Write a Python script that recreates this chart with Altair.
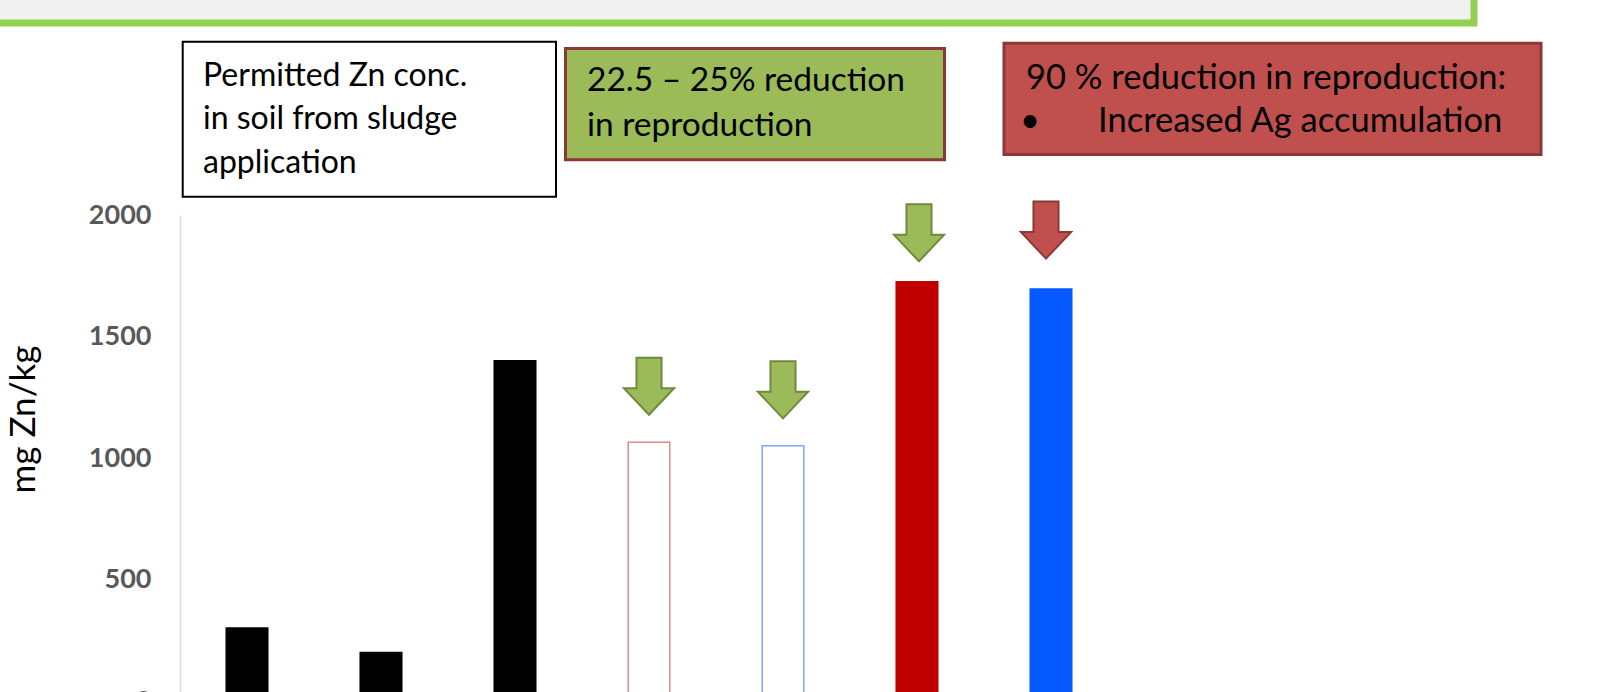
import altair as alt
import pandas as pd

# ---- data -------------------------------------------------------------
groups = ["g1", "g2", "g3", "g4", "g5", "g6", "g7"]
zn_mg_per_kg = [300, 200, 1400, 1065, 1050, 1725, 1695]
bar_fill = ["#000000", "#000000", "#000000", "#ffffff", "#ffffff", "#c00000", "#0658ff"]
bar_stroke = ["#000000", "#000000", "#000000", "#e8888a", "#7fa6ff", "#c00000", "#0658ff"]
y_ticks = [0, 500, 1000, 1500, 2000]

box1_lines = ["Permitted Zn conc.", "in soil from sludge", "application"]
box2_lines = ["22.5 \u2013 25% reduction", "in reproduction"]
box3_line1 = "90 % reduction in reproduction:"
box3_line2 = "Increased  Ag accumulation"

# ---- layout (page pixels) ---------------------------------------------
ORIGIN_X, ORIGIN_Y = 180, 215   # left edge of plot / position of the 2000 tick
PLOT_W = 938                    # 7 bands of 134 px
Y_SPAN = 486                    # pixels from 2000 down to 0
PAGE_W, PAGE_H = 1615, 692
FONT = "Lato"


def px(x):
    return x - ORIGIN_X


def py(y):
    return y - ORIGIN_Y


bars = pd.DataFrame({
    "group": groups,
    "value": zn_mg_per_kg,
    "fill": bar_fill,
    "stroke": bar_stroke,
})

x_enc = alt.X(
    "group:N",
    axis=None,
    scale=alt.Scale(domain=groups, paddingInner=0.69, paddingOuter=0.345),
)
y_enc = alt.Y(
    "value:Q",
    title="mg Zn/kg",
    scale=alt.Scale(domain=[0, 2000], range=[Y_SPAN, 0], nice=False, zero=True),
    axis=alt.Axis(
        values=y_ticks,
        format="d",
        grid=False,
        ticks=False,
        tickSize=0,
        domain=True,
        domainColor="#d9d9d9",
        domainWidth=1.5,
        labelFont=FONT,
        labelFontSize=27,
        labelFontWeight="bold",
        labelColor="#595959",
        labelPadding=29,
        titleFont=FONT,
        titleFontSize=35,
        titleFontWeight="normal",
        titleColor="#000000",
        titleAngle=270,
        titleAlign="center",
        titleBaseline="alphabetic",
        titleX=px(34),
        titleY=py(419),
    ),
)

one_row = alt.Data(values=[{"k": 0}])


def box(x0, y0, x1, y1, fill, stroke, width):
    return alt.Chart(one_row).mark_rect(
        fill=fill, stroke=stroke, strokeWidth=width
    ).encode(
        x=alt.value(px(x0)), x2=alt.value(px(x1)),
        y=alt.value(py(y0)), y2=alt.value(py(y1)),
    )


def label(text, x, y, size=32, line_height=44):
    return alt.Chart(one_row).mark_text(
        text=text, font=FONT, fontSize=size, color="#000000",
        align="left", baseline="alphabetic", lineHeight=line_height,
    ).encode(x=alt.value(px(x)), y=alt.value(py(y)))


# heading panel running off the top of the page
heading = box(-40, -80, 1474, 23, "#f0f0f0", "#92d050", 7)

box1 = box(182.7, 41.7, 556, 196.7, "#ffffff", "#000000", 2)
box2 = box(565.5, 48.4, 944.5, 159.7, "#9bbb59", "#8c3836", 3)
box3 = box(1004, 43.3, 1541, 154.5, "#c0504d", "#8c3836", 3)

text1 = label(box1_lines, 203, 85.7, 32, 43.6)
text2 = label(box2_lines, 587, 91, 33.5, 45)
text3a = label(box3_line1, 1026, 89, 34.5)
bullet = label("\u2022", 1020, 132, 34.5)
text3b = label(box3_line2, 1098, 132, 34.5)

bar_layer = alt.Chart(bars).mark_bar(strokeWidth=1.5).encode(
    x=x_enc,
    y=y_enc,
    fill=alt.Fill("fill:N", scale=None),
    stroke=alt.Stroke("stroke:N", scale=None),
)

# block arrow pointing down, in the symbol's [-1, 1] space
ARROW = "M -0.44 -1 L 0.44 -1 L 0.44 0.07 L 0.88 0.07 L 0 1 L -0.88 0.07 L -0.44 0.07 Z"
ARROW_SIZE = 57 * 57


def arrows(which, fill, stroke, lift, nudge=0):
    return alt.Chart(bars).transform_filter(
        alt.FieldOneOfPredicate(field="group", oneOf=which)
    ).mark_point(
        shape=ARROW, size=ARROW_SIZE, filled=True, fill=fill, stroke=stroke,
        strokeWidth=2, opacity=1, yOffset=-lift, xOffset=nudge,
    ).encode(x=x_enc, y=y_enc)


green_low = arrows(["g4", "g5"], "#9bbb59", "#71893f", 56)
green_high = arrows(["g6"], "#9bbb59", "#71893f", 49, 2)
red_arrow = arrows(["g7"], "#c0504d", "#8c3836", 59, -5)

chart = alt.layer(
    heading, box1, box2, box3, text1, text2, text3a, bullet, text3b,
    bar_layer, green_low, green_high, red_arrow,
).properties(
    width=PLOT_W,
    height=PAGE_H - ORIGIN_Y,
    padding={"left": ORIGIN_X, "top": ORIGIN_Y,
             "right": PAGE_W - ORIGIN_X - PLOT_W, "bottom": 0},
    autosize=alt.AutoSizeParams(type="none"),
    background="#ffffff",
).configure_view(strokeWidth=0)

chart.save("out.html", embed_options={"renderer": "svg", "actions": False})
